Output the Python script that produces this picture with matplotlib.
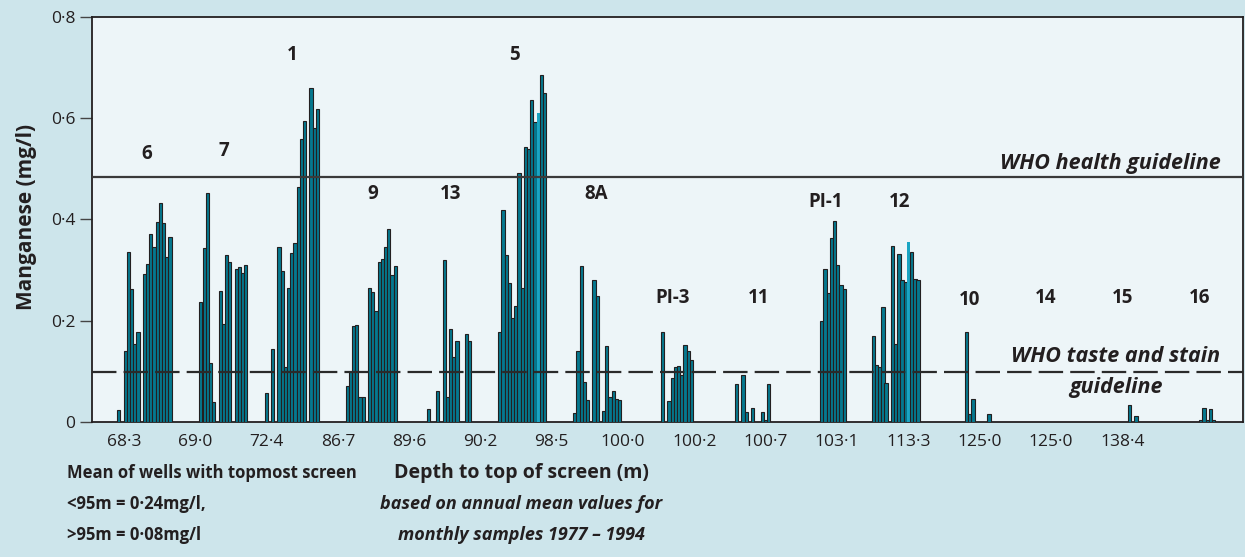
import numpy as np
import matplotlib
matplotlib.use("Agg")
import matplotlib.pyplot as plt

nan = np.nan

# Well names and depth to top of screen (m)
wells = ["6", "7", "1", "9", "13", "5", "8A", "PI-3", "11", "PI-1", "12", "10", "14", "15", "16"]
depths = ["68·3", "69·0", "72·4", "86·7", "89·6", "90·2", "98·5", "100·0",
          "100·2", "100·7", "103·1", "113·3", "125·0", "125·0", "138·4"]

# Annual mean manganese (mg/l) per well, NaN where no sample that year
mn_6 = [0.024, nan, 0.14, 0.335, 0.263, 0.154, 0.178, nan, 0.292, 0.312, 0.372,
        0.345, 0.395, 0.432, 0.392, 0.325, 0.365]
mn_7 = [0.236, 0.344, 0.453, 0.117, 0.038, nan, 0.259, 0.193, 0.33, 0.315, nan,
        0.302, 0.305, 0.293, 0.31]
mn_1 = [0.057, nan, 0.143, nan, 0.345, 0.297, 0.108, 0.264, 0.333, 0.353, 0.463,
        0.558, 0.594, nan, 0.659, 0.581, 0.619]
mn_9 = [0.07, 0.098, 0.189, 0.192, 0.049, 0.049, nan, 0.264, 0.257, 0.219, 0.315,
        0.321, 0.346, 0.38, 0.29, 0.307]
mn_13 = [0.025, nan, nan, 0.061, nan, 0.32, 0.048, 0.183, 0.128, 0.16, nan, nan,
         0.174, 0.16]
mn_5 = [0.178, 0.419, 0.33, 0.275, 0.205, 0.229, 0.492, 0.264, 0.543, 0.539,
        0.636, 0.593, 0.611, 0.686, 0.65]
mn_8a = [0.018, 0.139, 0.308, 0.079, 0.042, nan, 0.281, 0.248, nan, 0.021, 0.149,
         0.049, 0.061, 0.044, 0.042]
mn_pi3 = [0.178, nan, 0.041, 0.087, 0.108, 0.11, 0.092, 0.151, 0.139, 0.122]
mn_11 = [0.074, nan, 0.092, 0.019, nan, 0.027, nan, nan, 0.02, 0.003, 0.075]
mn_pi1 = [0.199, 0.302, 0.254, 0.363, 0.397, 0.31, 0.27, 0.262]
mn_12 = [0.17, 0.112, 0.108, 0.226, 0.076, nan, 0.347, 0.154, 0.332, 0.281, 0.277,
         0.356, 0.335, 0.283, 0.28]
mn_10 = [0.177, 0.016, 0.045, nan, nan, nan, nan, 0.016]
mn_14 = []
mn_15 = [0.033, nan, 0.012]
mn_16 = [0.003, 0.028, 0.003, 0.025, 0.003]

series = [mn_6, mn_7, mn_1, mn_9, mn_13, mn_5, mn_8a, mn_pi3, mn_11, mn_pi1,
          mn_12, mn_10, mn_14, mn_15, mn_16]

# Years drawn in a lighter shade (well index, year index)
light_bars = {(5, 12), (10, 11)}

who_health = 0.483
who_taste = 0.099

# ---- layout -------------------------------------------------------------
W, H = 1245, 557
X0, X1 = 92, 1243          # horizontal extent of the plotting frame
group_start = [117.3, 199.3, 264.7, 345.7, 426.7, 498.3, 573.3, 661.0, 735.0,
               820.3, 871.7, 965.0, 1040.0, 1128.0, 1199.3]
label_x = [147, 224, 292, 373, 451, 515, 596, 673, 759, 826, 900, 970, 1046, 1123, 1200]
label_y = [0.53, 0.535, 0.725, 0.45, 0.45, 0.725, 0.45, 0.245, 0.245, 0.435,
           0.435, 0.24, 0.245, 0.245, 0.245]
tick_x = [124 + 71.3 * i for i in range(len(depths))]
slot = 3.2

bg = "#cde5eb"
face = "#edf5f8"
teal = "#05788f"
teal_light = "#1aa5c3"
ink = "#231f20"

plt.rcParams["font.family"] = ["Open Sans", "DejaVu Sans"]

fig = plt.figure(figsize=(W / 100, H / 100), dpi=100, facecolor=bg)
ax = fig.add_axes([X0 / W, (H - 421.7) / H, (X1 - X0) / W, (421.7 - 17) / H])
ax.set_facecolor(face)
ax.set_xlim(X0, X1)
ax.set_ylim(0, 0.8)

for gi, vals in enumerate(series):
    for j, v in enumerate(vals):
        if np.isnan(v):
            continue
        xc = group_start[gi] + (j + 0.5) * slot
        if (gi, j) in light_bars:
            ax.bar(xc, v, width=slot, color=teal_light, edgecolor="none", zorder=3)
        else:
            ax.bar(xc, v, width=slot, color=teal, edgecolor=ink, linewidth=0.8, zorder=3)

ax.axhline(who_health, color="#3a3a3a", lw=1.6, zorder=4)
ax.axhline(who_taste, color="#2a2a2a", lw=1.6, dashes=(11, 3.2), zorder=4)

for name, lx, ly in zip(wells, label_x, label_y):
    ax.text(lx, ly, name, ha="center", va="center", fontsize=13.5,
            fontweight="bold", color=ink)

ax.text(1221, who_health + 0.007, "WHO health guideline", ha="right", va="bottom",
        fontsize=15.5, fontweight="bold", style="italic", color=ink)
ax.text(1116, who_taste + 0.010, "WHO taste and stain", ha="center", va="bottom",
        fontsize=15.5, fontweight="bold", style="italic", color=ink)
ax.text(1116, who_taste - 0.010, "guideline", ha="center", va="top",
        fontsize=15.5, fontweight="bold", style="italic", color=ink)

ax.set_yticks([0, 0.2, 0.4, 0.6, 0.8])
ax.set_yticklabels(["0", "0·2", "0·4", "0·6", "0·8"])
ax.set_xticks(tick_x)
ax.set_xticklabels(depths)
ax.tick_params(axis="y", direction="out", length=9, width=1, color="#444444",
               labelsize=12.5, labelcolor=ink, pad=3)
ax.tick_params(axis="x", length=0, labelsize=12.5, labelcolor=ink, pad=9)
for s in ax.spines.values():
    s.set_color(ink)
    s.set_linewidth(1.3)

fig.text(27 / W, 1 - 217 / H, "Manganese (mg/l)", rotation=90, ha="center",
         va="center", fontsize=15, fontweight="bold", color=ink)

fig.text(521 / W, 1 - 473 / H, "Depth to top of screen (m)", ha="center",
         va="center", fontsize=14, fontweight="bold", color=ink)
fig.text(521 / W, 1 - 504 / H, "based on annual mean values for", ha="center",
         va="center", fontsize=13, fontweight="bold", style="italic", color=ink)
fig.text(521 / W, 1 - 535 / H, "monthly samples 1977 – 1994", ha="center",
         va="center", fontsize=13, fontweight="bold", style="italic", color=ink)

fig.text(67 / W, 1 - 473 / H, "Mean of wells with topmost screen", ha="left",
         va="center", fontsize=12, fontweight="bold", color=ink)
fig.text(67 / W, 1 - 504 / H, "<95m = 0·24mg/l,", ha="left",
         va="center", fontsize=12, fontweight="bold", color=ink)
fig.text(67 / W, 1 - 535 / H, ">95m = 0·08mg/l", ha="left",
         va="center", fontsize=12, fontweight="bold", color=ink)

fig.savefig("out.png", dpi=100, facecolor=bg)
